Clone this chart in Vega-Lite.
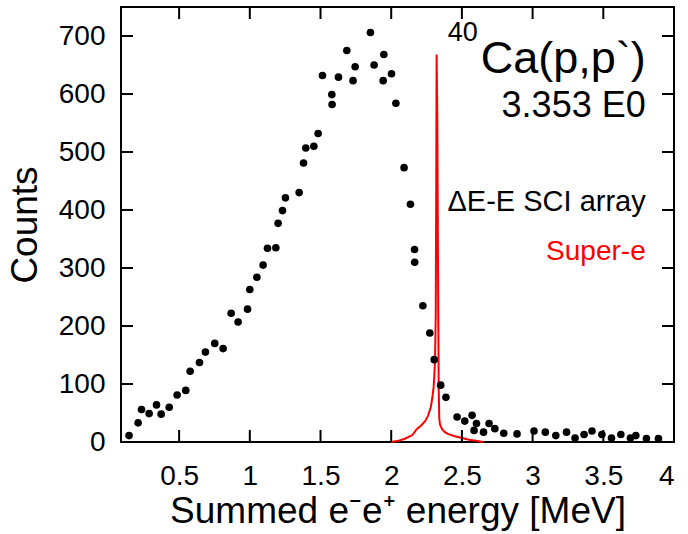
{
  "$schema": "https://vega.github.io/schema/vega-lite/v6.json",
  "width": 553,
  "height": 435,
  "autosize": {"type": "none"},
  "padding": {"left": 121, "top": 7, "right": 14, "bottom": 92},
  "background": "white",
  "config": {
    "view": {"stroke": "black", "strokeWidth": 2},
    "font": "Liberation Sans",
    "axis": {
      "domain": false,
      "grid": false,
      "ticks": false,
      "labelColor": "black",
      "titleColor": "black",
      "labelFont": "Liberation Sans",
      "titleFont": "Liberation Sans",
      "labelFontSize": 28,
      "titleFontSize": 37,
      "titleFontWeight": "normal"
    }
  },
  "datasets": {
    "sciArray": [
      {"energy": 0.146, "counts": 11},
      {"energy": 0.21, "counts": 33},
      {"energy": 0.234, "counts": 56},
      {"energy": 0.288, "counts": 49},
      {"energy": 0.34, "counts": 64},
      {"energy": 0.373, "counts": 48},
      {"energy": 0.43, "counts": 60},
      {"energy": 0.486, "counts": 81},
      {"energy": 0.547, "counts": 89},
      {"energy": 0.578, "counts": 122},
      {"energy": 0.644, "counts": 137},
      {"energy": 0.686, "counts": 155},
      {"energy": 0.752, "counts": 170},
      {"energy": 0.811, "counts": 161},
      {"energy": 0.868, "counts": 222},
      {"energy": 0.917, "counts": 207},
      {"energy": 0.984, "counts": 229},
      {"energy": 1.0, "counts": 263},
      {"energy": 1.05, "counts": 284},
      {"energy": 1.094, "counts": 305},
      {"energy": 1.125, "counts": 334},
      {"energy": 1.184, "counts": 335},
      {"energy": 1.2, "counts": 377},
      {"energy": 1.231, "counts": 399},
      {"energy": 1.252, "counts": 421},
      {"energy": 1.349, "counts": 430},
      {"energy": 1.38, "counts": 481},
      {"energy": 1.396, "counts": 507},
      {"energy": 1.453, "counts": 510},
      {"energy": 1.483, "counts": 532},
      {"energy": 1.514, "counts": 632},
      {"energy": 1.58, "counts": 599},
      {"energy": 1.582, "counts": 582},
      {"energy": 1.627, "counts": 629},
      {"energy": 1.686, "counts": 675},
      {"energy": 1.73, "counts": 623},
      {"energy": 1.745, "counts": 647},
      {"energy": 1.853, "counts": 706},
      {"energy": 1.879, "counts": 650},
      {"energy": 1.943, "counts": 623},
      {"energy": 1.948, "counts": 668},
      {"energy": 2.002, "counts": 635},
      {"energy": 2.033, "counts": 584},
      {"energy": 2.091, "counts": 473},
      {"energy": 2.136, "counts": 410},
      {"energy": 2.165, "counts": 332},
      {"energy": 2.166, "counts": 310},
      {"energy": 2.224, "counts": 235},
      {"energy": 2.273, "counts": 188},
      {"energy": 2.304, "counts": 142},
      {"energy": 2.35, "counts": 98},
      {"energy": 2.387, "counts": 77},
      {"energy": 2.466, "counts": 43},
      {"energy": 2.52, "counts": 36},
      {"energy": 2.572, "counts": 46},
      {"energy": 2.586, "counts": 20},
      {"energy": 2.603, "counts": 32},
      {"energy": 2.653, "counts": 17},
      {"energy": 2.692, "counts": 32},
      {"energy": 2.733, "counts": 23},
      {"energy": 2.796, "counts": 15},
      {"energy": 2.89, "counts": 14},
      {"energy": 3.01, "counts": 19},
      {"energy": 3.09, "counts": 17},
      {"energy": 3.164, "counts": 11},
      {"energy": 3.24, "counts": 17},
      {"energy": 3.3, "counts": 7},
      {"energy": 3.364, "counts": 13},
      {"energy": 3.42, "counts": 19},
      {"energy": 3.49, "counts": 13},
      {"energy": 3.558, "counts": 7},
      {"energy": 3.624, "counts": 13},
      {"energy": 3.692, "counts": 7},
      {"energy": 3.73, "counts": 11},
      {"energy": 3.805, "counts": 6},
      {"energy": 3.89, "counts": 6}
    ],
    "superE": [
      {"energy": 2.0, "counts": 0},
      {"energy": 2.05, "counts": 2},
      {"energy": 2.1, "counts": 6},
      {"energy": 2.15, "counts": 12},
      {"energy": 2.18, "counts": 22},
      {"energy": 2.21, "counts": 28},
      {"energy": 2.24, "counts": 36},
      {"energy": 2.26, "counts": 45},
      {"energy": 2.28, "counts": 60},
      {"energy": 2.29, "counts": 75},
      {"energy": 2.3, "counts": 95},
      {"energy": 2.305, "counts": 115},
      {"energy": 2.31, "counts": 140},
      {"energy": 2.315, "counts": 220},
      {"energy": 2.318, "counts": 420},
      {"energy": 2.321, "counts": 668},
      {"energy": 2.326, "counts": 560},
      {"energy": 2.331, "counts": 300},
      {"energy": 2.336, "counts": 90},
      {"energy": 2.34, "counts": 40},
      {"energy": 2.345, "counts": 30},
      {"energy": 2.36, "counts": 22},
      {"energy": 2.38, "counts": 17},
      {"energy": 2.4, "counts": 14},
      {"energy": 2.45, "counts": 10},
      {"energy": 2.5, "counts": 7},
      {"energy": 2.55, "counts": 4},
      {"energy": 2.6, "counts": 2},
      {"energy": 2.65, "counts": 0}
    ],
    "energyTicks": [
      {"energy": 0.5}, {"energy": 1}, {"energy": 1.5}, {"energy": 2},
      {"energy": 2.5}, {"energy": 3}, {"energy": 3.5}
    ],
    "countTicks": [
      {"counts": 100}, {"counts": 200}, {"counts": 300}, {"counts": 400},
      {"counts": 500}, {"counts": 600}, {"counts": 700}
    ]
  },
  "layer": [
    {
      "data": {"name": "superE"},
      "mark": {"type": "line", "color": "#ff0000", "strokeWidth": 2},
      "encoding": {
        "x": {
          "field": "energy", "type": "quantitative",
          "scale": {"domain": [0.089, 4], "nice": false, "zero": false},
          "axis": {
            "orient": "bottom",
            "values": [0.5, 1, 1.5, 2, 2.5, 3, 3.5, 4],
            "format": "~g",
            "labelPadding": 20,
            "title": "Summed e⁻e⁺ energy [MeV]",
            "titlePadding": 3
          }
        },
        "y": {
          "field": "counts", "type": "quantitative",
          "scale": {"domain": [0, 750], "nice": false},
          "axis": {
            "orient": "left",
            "values": [0, 100, 200, 300, 400, 500, 600, 700],
            "format": "d",
            "labelPadding": 16,
            "title": "Counts",
            "titlePadding": 14
          }
        }
      }
    },
    {
      "data": {"name": "sciArray"},
      "mark": {"type": "circle", "size": 58, "color": "black", "opacity": 1},
      "encoding": {
        "x": {"field": "energy", "type": "quantitative"},
        "y": {"field": "counts", "type": "quantitative"}
      }
    },
    {
      "data": {"name": "energyTicks"},
      "mark": {"type": "point", "shape": "M0,-1V1", "size": 144, "filled": false, "stroke": "black", "strokeWidth": 2, "opacity": 1},
      "encoding": {
        "x": {"field": "energy", "type": "quantitative"},
        "y": {"datum": 10.35, "type": "quantitative"}
      }
    },
    {
      "data": {"name": "energyTicks"},
      "mark": {"type": "point", "shape": "M0,-1V1", "size": 144, "filled": false, "stroke": "black", "strokeWidth": 2, "opacity": 1},
      "encoding": {
        "x": {"field": "energy", "type": "quantitative"},
        "y": {"datum": 739.65, "type": "quantitative"}
      }
    },
    {
      "data": {"name": "countTicks"},
      "mark": {"type": "point", "shape": "M-1,0H1", "size": 144, "filled": false, "stroke": "black", "strokeWidth": 2, "opacity": 1},
      "encoding": {
        "y": {"field": "counts", "type": "quantitative"},
        "x": {"datum": 0.1314, "type": "quantitative"}
      }
    },
    {
      "data": {"name": "countTicks"},
      "mark": {"type": "point", "shape": "M-1,0H1", "size": 144, "filled": false, "stroke": "black", "strokeWidth": 2, "opacity": 1},
      "encoding": {
        "y": {"field": "counts", "type": "quantitative"},
        "x": {"datum": 3.9576, "type": "quantitative"}
      }
    },
    {
      "data": {"values": [{"label": "Ca(p,p`)"}]},
      "mark": {"type": "text", "align": "right", "baseline": "alphabetic", "fontSize": 45, "color": "black"},
      "encoding": {
        "text": {"field": "label"},
        "x": {"datum": 3.8, "type": "quantitative"},
        "y": {"datum": 636, "type": "quantitative"}
      }
    },
    {
      "data": {"values": [{"label": "40"}]},
      "mark": {"type": "text", "align": "right", "baseline": "alphabetic", "fontSize": 27, "color": "black"},
      "encoding": {
        "text": {"field": "label"},
        "x": {"datum": 2.612, "type": "quantitative"},
        "y": {"datum": 692, "type": "quantitative"}
      }
    },
    {
      "data": {"values": [{"label": "3.353 E0"}]},
      "mark": {"type": "text", "align": "right", "baseline": "alphabetic", "fontSize": 36, "color": "black"},
      "encoding": {
        "text": {"field": "label"},
        "x": {"datum": 3.8, "type": "quantitative"},
        "y": {"datum": 560, "type": "quantitative"}
      }
    },
    {
      "data": {"values": [{"label": "ΔE-E SCI array"}]},
      "mark": {"type": "text", "align": "right", "baseline": "alphabetic", "fontSize": 29, "color": "black"},
      "encoding": {
        "text": {"field": "label"},
        "x": {"datum": 3.8, "type": "quantitative"},
        "y": {"datum": 398, "type": "quantitative"}
      }
    },
    {
      "data": {"values": [{"label": "Super-e"}]},
      "mark": {"type": "text", "align": "right", "baseline": "alphabetic", "fontSize": 28, "color": "#ff0000"},
      "encoding": {
        "text": {"field": "label"},
        "x": {"datum": 3.8, "type": "quantitative"},
        "y": {"datum": 313, "type": "quantitative"}
      }
    }
  ]
}
